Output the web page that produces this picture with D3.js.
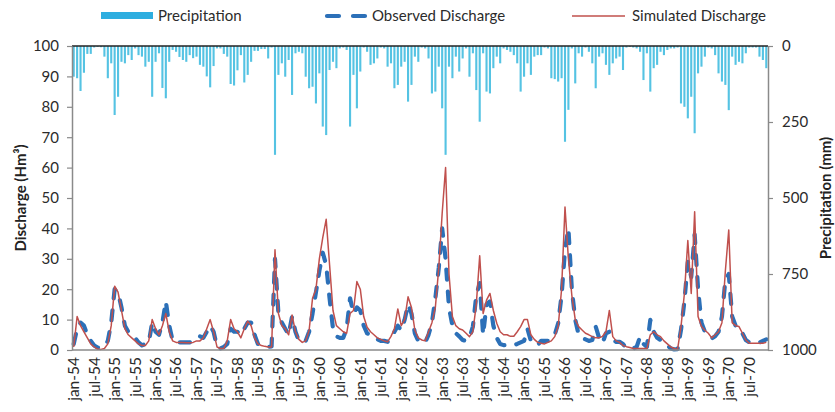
<!DOCTYPE html>
<html><head><meta charset="utf-8">
<script src="https://cdn.jsdelivr.net/npm/d3@7"></script>
<style>body{margin:0;background:#fff}svg{display:block;font-family:Lato,"Open Sans",sans-serif}</style>
</head><body><svg id="c" width="835" height="412"></svg>
<script>
const years = ["54","55","56","57","58","59","60","61","62","63","64","65","66","67","68","69","70"];
const months = ["jan","feb","mar","apr","may","jun","jul","aug","sep","oct","nov","dec"];
const categories = years.flatMap(y => months.map(m => m + "-" + y));
const tickLabels = ["jan-54","jul-54","jan-55","jul-55","jan-56","jul-56","jan-57","jul-57","jan-58","jul-58","jan-59","jul-59","jan-60","jul-60","jan-61","jul-61","jan-62","jul-62","jan-63","jul-63","jan-64","jul-64","jan-65","jul-65","jan-66","jul-66","jan-67","jul-67","jan-68","jul-68","jan-69","jul-69","jan-70","jul-70"];
const leftTicks = [0,10,20,30,40,50,60,70,80,90,100];
const rightTicks = [0,250,500,750,1000];

// Precipitation (mm), monthly jan-54 .. dec-70
const precipitation = [
101,106,148,88,26,26,5,3,4,35,106,57,
227,167,52,57,30,46,8,30,35,68,52,167,
52,24,138,172,52,13,19,36,46,52,30,40,
35,62,68,100,136,66,8,8,26,35,125,130,
80,30,120,95,52,16,16,10,10,41,5,358,
95,57,101,46,161,24,19,24,101,139,134,189,
90,265,293,79,52,73,8,5,13,265,95,205,
84,5,19,62,57,41,5,8,68,57,139,128,
68,52,183,128,35,52,5,8,41,156,150,68,
205,358,68,106,35,84,41,8,101,24,145,249,
24,150,156,73,35,57,8,13,19,30,57,150,
101,57,95,35,30,30,5,8,106,109,117,106,
315,210,8,123,24,35,5,19,57,139,35,24,
62,95,57,41,35,79,5,3,5,8,19,112,
24,150,73,62,19,30,13,8,8,5,189,200,
238,167,287,90,68,35,5,8,30,90,117,128,
211,35,62,52,57,24,5,5,5,35,46,73];

// Observed discharge (Hm3)
const observed = [
2,7,9,8,5,3,1.5,0.8,0.8,1.2,3,9,
20,19,14,8,6,5,4,2.5,1.5,2,2.5,9,
6,5,9,16,8,3,2.5,2.5,2.5,2.5,2.5,3,
4,4.5,4,6,8,6,1,0.5,1,2,7,6,
6,5,7,9,9,5,2,1.5,1.2,1,1.2,30,
12,9,7,5,11,6,3,2.5,3,6,12,19,
26,32,28,17,7,4.5,4,4,7,17,12,14,
13,8,5.5,5,4.5,3.5,3,3,2.7,4,6,8,
6.5,10,15,12,5.5,3,2.5,2.5,5,9,17,27,
40,30,14,8,5.5,4.5,3.3,3,4,7.7,18,22,
5,15,16,8,4,2,1.6,1.6,1.6,1.6,2,2.5,
3,7,3,2,1.6,3,3,3,3.5,5,8.8,18,
33,40,20,10,5,4,3.5,3,3.3,7.7,4,2.2,
5.5,6,3.3,2.7,2.7,2,0.5,0.5,0.5,1,4.4,2,
1,9.9,6,4,3.3,2,1.6,0.5,0.2,0.3,6.6,16,
29,24,38,20,9,6,5,3.8,4.5,6,11,23,
25,11,8,6,5.5,3.3,2.5,2.5,2.5,2.5,3,3.5];

// Simulated discharge (Hm3)
const simulated = [
1,11,8,6,4,2,1,0.3,0.2,0.5,2,8,
21,19,13,7,5,4,3,2,1.5,1.5,3,10,
7,5,8,12,6,3,2.5,2.5,2.5,2.4,2.4,2.5,
3,3,4,7,10,6,1,0.5,0.5,3,10,7,
6,4,7,9.5,8,4,2,1.5,1.2,1,1,33,
12,8,7,5,11.5,6,3.5,2.5,3,6.5,17,20,
30,37,43,28,13,8,7,6,5.5,12,13,22.5,
20,11,7.5,6,5,4,3.5,3,2.7,4.5,7,13.5,
8,10,17.5,14,6.5,4,3.3,3,6,9,14,27,
45,60,25,11,8,7,6.6,5.5,4.4,6,15,31,
12,16.4,18.6,13,8.8,6,5,5,4.5,4.5,6,7.7,
10,10,5,3.5,2.5,2.2,2,2.5,3,4.4,7.7,20,
47,30,18,10,7.7,6.6,5.5,5,4.4,4,4,4.5,
6,13,4.4,3,2.5,1.5,1.1,0.8,0.5,0.5,0.5,0.5,
0.5,5,6,5,4.4,3,2,1,0.5,0.2,7.7,18.6,
36,18.6,45.5,11,7.7,6.5,5.5,4,5,6,9,26,
39.5,9,8,7.7,5.5,3.3,2.2,2.2,2.2,2.2,2.2,2.5];

[precipitation, observed, simulated].forEach((a, k) => {
  if (a.length !== categories.length) throw new Error("length mismatch " + k + ": " + a.length);
});

const W = 835, H = 412;
const M = {left: 72, right: 768, top: 46, bottom: 350};
const svg = d3.select("#c");
svg.append("rect").attr("width", W).attr("height", H).attr("fill", "#fff");

const x = d3.scaleBand().domain(categories).range([M.left, M.right]).paddingInner(0).paddingOuter(0);
const xc = c => x(c) + x.bandwidth() / 2;
const yQ = d3.scaleLinear().domain([0, 100]).range([M.bottom, M.top]);
const yP = d3.scaleLinear().domain([0, 1000]).range([M.top, M.bottom]);
const textColor = "#2b2b2b";
const axisColor = "#8a8a8a";

// precipitation bars hanging from top
const barW = x.bandwidth() * 0.62;
svg.append("g").selectAll("rect").data(categories).join("rect")
  .attr("x", c => xc(c) - barW / 2)
  .attr("y", yP(0))
  .attr("width", barW)
  .attr("height", (c, i) => yP(precipitation[i]) - yP(0))
  .attr("fill", "#55c3e3");

// observed dashed line
const line = d3.line().x(d => xc(d.c)).y(d => yQ(d.v));
svg.append("path")
  .datum(categories.map((c, i) => ({c, v: observed[i]})))
  .attr("d", line).attr("fill", "none")
  .attr("stroke", "#2c70b8").attr("stroke-width", 4.2)
  .attr("stroke-dasharray", "10,12").attr("stroke-linecap", "round")
  .attr("stroke-linejoin", "round");

// simulated line
svg.append("path")
  .datum(categories.map((c, i) => ({c, v: simulated[i]})))
  .attr("d", line).attr("fill", "none")
  .attr("stroke", "#c0504d").attr("stroke-width", 1.5)
  .attr("stroke-linejoin", "round");

// top line (precipitation zero)
svg.append("line").attr("x1", M.left).attr("x2", M.right)
  .attr("y1", M.top).attr("y2", M.top)
  .attr("stroke", "#222").attr("stroke-width", 1.5);
// bottom line
svg.append("line").attr("x1", M.left).attr("x2", M.right)
  .attr("y1", M.bottom).attr("y2", M.bottom)
  .attr("stroke", axisColor).attr("stroke-width", 1.5);

// left axis
const gl = svg.append("g").attr("transform", `translate(${M.left},0)`)
  .call(d3.axisLeft(yQ).tickValues(leftTicks).tickFormat(d3.format("d")).tickSize(5).tickPadding(8).tickSizeOuter(0));
// right axis
const gr = svg.append("g").attr("transform", `translate(${M.right},0)`)
  .call(d3.axisRight(yP).tickValues(rightTicks).tickFormat(d3.format("d")).tickSize(5).tickPadding(9).tickSizeOuter(0));
[gl, gr].forEach(g => {
  g.select(".domain").attr("stroke", axisColor).attr("stroke-width", 1.5);
  g.selectAll(".tick line").attr("stroke", axisColor).attr("stroke-width", 1.2);
  g.selectAll(".tick text").attr("fill", textColor)
    .style("font-family", "Lato, sans-serif").style("font-size", "15px");
});

// x labels
svg.append("g").selectAll("text").data(tickLabels).join("text")
  .attr("transform", d => `translate(${xc(d)},357) rotate(-90)`)
  .attr("dy", "0.35em").attr("text-anchor", "end")
  .attr("fill", textColor).style("font-size", "15.5px")
  .text(d => d);

// axis titles
svg.append("text").attr("transform", "translate(21,198) rotate(-90)")
  .attr("dy", "0.35em").attr("text-anchor", "middle")
  .attr("fill", "#222").style("font-size", "15px").style("font-weight", "bold")
  .text("Discharge (Hm³)");
svg.append("text").attr("transform", "translate(826,198) rotate(-90)")
  .attr("dy", "0.35em").attr("text-anchor", "middle")
  .attr("fill", "#222").style("font-size", "15px").style("font-weight", "bold")
  .text("Precipitation (mm)");

// legend
const lg = svg.append("g").style("font-size", "15px").attr("fill", textColor);
lg.append("rect").attr("x", 101).attr("y", 12).attr("width", 52).attr("height", 7).attr("fill", "#2eaee0");
lg.append("text").attr("x", 158).attr("y", 16).attr("dy", "0.35em").text("Precipitation");
lg.append("line").attr("x1", 327).attr("x2", 365).attr("y1", 16).attr("y2", 16)
  .attr("stroke", "#2c70b8").attr("stroke-width", 4.2)
  .attr("stroke-dasharray", "12,14").attr("stroke-linecap", "round");
lg.append("text").attr("x", 372).attr("y", 16).attr("dy", "0.35em").text("Observed Discharge");
lg.append("line").attr("x1", 572).attr("x2", 625).attr("y1", 16).attr("y2", 16)
  .attr("stroke", "#c0504d").attr("stroke-width", 1.5);
lg.append("text").attr("x", 632).attr("y", 16).attr("dy", "0.35em").text("Simulated Discharge");
</script></body></html>
